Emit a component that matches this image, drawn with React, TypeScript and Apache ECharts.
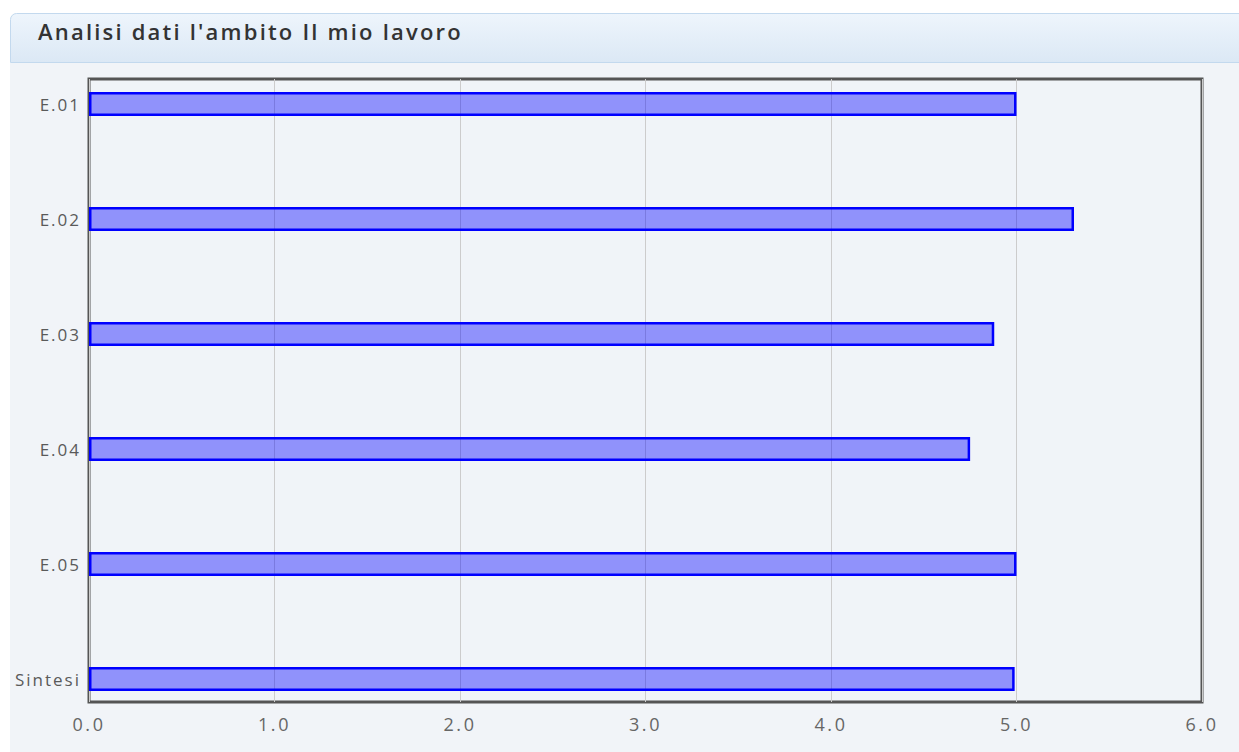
import React, { useEffect, useRef } from "react";
import * as echarts from "echarts";

// Categories and their average scores
const categories = ["E.01", "E.02", "E.03", "E.04", "E.05", "Sintesi"];
const scores = [5.0, 5.31, 4.88, 4.75, 5.0, 4.99];
const xTicks = [0, 1, 2, 3, 4, 5, 6];
const titleText = "Analisi dati l'ambito Il mio lavoro";

const W = 1239;
const H = 752;

// Wide tracking for the chart's lettering
const textCss = `
.score-chart svg text { letter-spacing: 2px; }
.score-chart svg text[style*="18px"] { letter-spacing: 2.6px; }
.score-chart svg text[style*="22px"] { letter-spacing: 2.2px; }
`;

export default function App() {
  const ref = useRef<HTMLDivElement>(null);

  useEffect(() => {
    if (!ref.current) return;
    const chart = echarts.init(ref.current, undefined, { renderer: "svg" });
    const font = "'Open Sans', 'DejaVu Sans', sans-serif";

    chart.setOption({
      animation: false,
      backgroundColor: "#ffffff",
      title: {
        text: titleText,
        left: 33,
        top: 15,
        textStyle: {
          fontFamily: font,
          fontSize: 22,
          fontWeight: 600,
          color: "#333333",
        },
      },
      graphic: [
        {
          type: "rect",
          z: -10,
          silent: true,
          shape: { x: 10, y: 63, width: W, height: H - 63 },
          style: { fill: "#f1f4f8" },
        },
        {
          type: "rect",
          z: -9,
          silent: true,
          shape: { x: 10.5, y: 13.5, width: W, height: 49, r: [6, 0, 0, 0] },
          style: {
            fill: new echarts.graphic.LinearGradient(0, 0, 0, 1, [
              { offset: 0, color: "#eef5fc" },
              { offset: 1, color: "#dbe8f5" },
            ]),
            stroke: "#c3d9ee",
            lineWidth: 1,
          },
        },
      ],
      grid: [
        {
          left: 89,
          right: W - 1202,
          top: 79,
          bottom: H - 702,
          show: true,
          backgroundColor: "#f0f4f8",
          borderColor: "#555555",
          borderWidth: 3,
        },
        {
          left: 89,
          right: W - 1202,
          top: 104,
          bottom: H - 679,
        },
      ],
      xAxis: [
        {
          type: "value",
          gridIndex: 0,
          min: xTicks[0],
          max: xTicks[xTicks.length - 1],
          interval: 1,
          axisLine: { show: false },
          axisTick: { show: false },
          splitLine: { lineStyle: { color: "#cccccc", width: 1 } },
          axisLabel: {
            fontFamily: font,
            fontSize: 18,
            color: "#666666",
            margin: 13,
            formatter: (v: number) => v.toFixed(1),
          },
        },
        {
          type: "value",
          gridIndex: 1,
          min: xTicks[0],
          max: xTicks[xTicks.length - 1],
          show: false,
        },
      ],
      yAxis: [
        {
          type: "category",
          gridIndex: 0,
          data: categories,
          show: false,
        },
        {
          type: "category",
          gridIndex: 1,
          data: categories,
          inverse: true,
          boundaryGap: false,
          axisLine: { show: false },
          axisTick: { show: false },
          splitLine: { show: false },
          axisLabel: {
            fontFamily: font,
            fontSize: 17,
            color: "#5a5a5a",
            margin: 8,
          },
        },
      ],
      series: [
        {
          type: "bar",
          xAxisIndex: 1,
          yAxisIndex: 1,
          data: scores,
          barWidth: 24,
          itemStyle: {
            color: "rgba(0, 0, 255, 0.4)",
            borderColor: "#0000ff",
            borderWidth: 2.5,
          },
        },
      ],
    });

    return () => chart.dispose();
  }, []);

  return (
    <>
      <style>{textCss}</style>
      <div
        ref={ref}
        className="score-chart"
        style={{ position: "absolute", left: 0, top: 0, width: W, height: H }}
      />
    </>
  );
}
